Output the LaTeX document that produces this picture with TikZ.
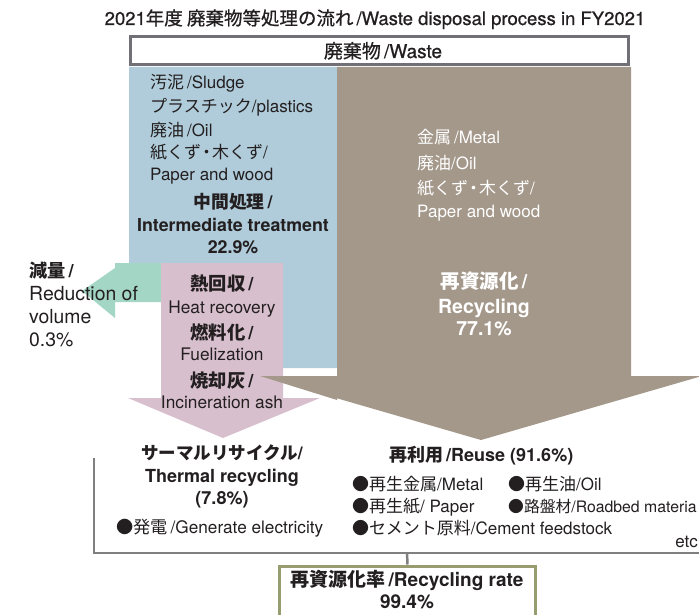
\documentclass[tikz,border=0pt]{standalone}
\usepackage{fontspec}
\setmainfont{TeX Gyre Heros}
\newfontfamily\jpf{Noto Sans CJK JP}
\newfontfamily\medf[FakeBold=0.7]{TeX Gyre Heros}
\newfontfamily\jpmed[FakeBold=0.7]{Noto Sans CJK JP}
\newcommand\J[1]{{\jpf #1}}
\newcommand\JM[1]{{\jpmed #1}}
\newcommand\fs[1]{\fontsize{#1}{#1}\selectfont}
\definecolor{blueC}{RGB}{176,204,218}
\definecolor{brownC}{RGB}{164,152,139}
\definecolor{pinkC}{RGB}{216,191,205}
\definecolor{greenC}{RGB}{163,214,196}
\definecolor{ink}{RGB}{35,31,32}
\definecolor{lineC}{RGB}{128,128,128}
\definecolor{wasteC}{RGB}{112,112,118}
\definecolor{rateC}{RGB}{152,157,112}
\begin{document}
\begin{tikzpicture}[x=1pt,y=-1pt,
  txt/.style={inner sep=0pt, text=ink},
  lt/.style={txt, anchor=base west},
  ct/.style={txt, anchor=base},
  wt/.style={inner sep=0pt, text=white}]
\clip (0,0) rectangle (699,615);
\fill[white] (0,0) rectangle (699,615);

% title
\node[ct, font=\fs{18.5}\medf] (title) at (375,25) {2021\JM{年度 廃棄物等処理の流れ}\,/Waste disposal process in FY2021};

% waste box
\draw[wasteC, line width=3pt, fill=white] (130.5,36.5) rectangle (628.5,64.5);
\node[ct, font=\fs{19}\medf] (waste) at (383,58) {\JM{廃棄物}\,/Waste};

% blue region
\fill[blueC] (129,67) -- (337,67) -- (337,368) -- (283,368) -- (283,263) -- (129,263) -- cycle;
% brown region + arrow
\fill[brownC] (337,67) -- (631,67) -- (631,376) -- (702,376) -- (481,440) -- (260,376) -- (337,376) -- cycle;
% green arrow
\fill[greenC] (161,263) -- (115,263) -- (115,268) -- (82,291) -- (115,318) -- (115,302) -- (161,302) -- cycle;
% pink arrow
\fill[pinkC] (161,263) -- (283,263) -- (283,398) -- (320,398) -- (223,438) -- (128,398) -- (161,398) -- cycle;
% brown arrowhead over pink
\fill[brownC] (260,376) -- (337,376) -- (337,400) -- cycle;

% blue texts
\node[lt, font=\fs{17}] (b1) at (150,89) {\J{汚泥}\,/Sludge};
\node[lt, font=\fs{17}] (b2) at (150,113) {\J{プラスチック}/plastics};
\node[lt, font=\fs{17}] (b3) at (150,137) {\J{廃油}\,/Oil};
\node[lt, font=\fs{17}] (b4) at (150,159) {\J{紙くず}\hspace{-3pt}\J{・}\hspace{-3pt}\J{木くず}/};
\node[lt, font=\fs{17}] (b5) at (150,181) {Paper and wood};
\node[ct, font=\fs{17.8}\bfseries] (b6) at (233,208) {\J{中間処理}\,/};
\node[ct, font=\fs{17.8}\bfseries] (b7) at (233,231) {Intermediate treatment};
\node[ct, font=\fs{17.8}\bfseries] (b8) at (233,253) {22.9\%};

% brown texts
\node[wt, anchor=base west, font=\fs{17}] (r1) at (417,144) {\J{金属}\,/Metal};
\node[wt, anchor=base west, font=\fs{17}] (r2) at (417,169) {\J{廃油}/Oil};
\node[wt, anchor=base west, font=\fs{17}] (r3) at (417,194) {\J{紙くず}\hspace{-3pt}\J{・}\hspace{-3pt}\J{木くず}/};
\node[wt, anchor=base west, font=\fs{17}] (r4) at (417,218) {Paper and wood};
\node[wt, anchor=base, font=\fs{19.5}\bfseries] (r5) at (484,288) {\J{再資源化}\,/};
\node[wt, anchor=base, font=\fs{19.5}\bfseries] (r6) at (484,313) {Recycling};
\node[wt, anchor=base, font=\fs{19.5}\bfseries] (r7) at (484,335) {77.1\%};

% green label
\node[lt, font=\fs{18.2}\bfseries] (g1) at (29,277) {\J{減量}\,/};
\node[lt, font=\fs{19.4}] (g2) at (29,300) {Reduction of};
\node[lt, font=\fs{19.4}] (g3) at (29,323) {volume};
\node[lt, font=\fs{19.4}] (g4) at (29,346) {0.3\%};

% pink texts
\node[ct, font=\fs{18.3}\bfseries] (p1) at (222,290) {\J{熱回収}\,/};
\node[ct, font=\fs{17.3}] (p2) at (222,313) {Heat recovery};
\node[ct, font=\fs{18.3}\bfseries] (p3) at (222,339) {\J{燃料化}\,/};
\node[ct, font=\fs{17.3}] (p4) at (222,360) {Fuelization};
\node[ct, font=\fs{18.3}\bfseries] (p5) at (222,387) {\J{焼却灰}\,/};
\node[ct, font=\fs{17.3}] (p6) at (222,408) {Incineration ash};

% bracket
\coordinate (brA) at (94,458);
\coordinate (brB) at (94,553);
\coordinate (brC) at (702,553);
\coordinate (brM) at (407,553);
\draw[lineC, line width=2.5pt] (brA) -- (brB) -- (brC);

% thermal recycling
\node[ct, font=\fs{17.5}\bfseries] (t1) at (222,459) {\J{サーマルリサイクル}/};
\node[ct, font=\fs{18}\bfseries] (t2) at (222,482) {Thermal recycling};
\node[ct, font=\fs{18}\bfseries] (t3) at (222,504) {(7.8\%)};
\node[lt, font=\fs{17.2}] (t4) at (116,533) {\J{●発電}\,/Generate electricity};

% reuse
\node[lt, font=\fs{18}\bfseries] (u0) at (389,461) {\J{再利用}\,/Reuse (91.6\%)};
\node[lt, font=\fs{17}] (u1) at (352,490) {\J{●再生金属}/Metal};
\node[lt, font=\fs{17}] (u2) at (508,490) {\J{●再生油}/Oil};
\node[lt, font=\fs{17}] (u3) at (352,512) {\J{●再生紙}/ Paper};
\node[lt, font=\fs{15.8}] (u4) at (508,512) {\J{●路盤材}/Roadbed materia};
\node[lt, font=\fs{17}] (u5) at (352,534) {\J{●セメント原料}/Cement feedstock};
\node[txt, anchor=base east, font=\fs{17}] (u6) at (698,547) {etc};

% recycling rate box
\node[draw=rateC, line width=3pt, fill=white, inner sep=0pt, minimum width=256pt, minimum height=56pt, anchor=north] (rate) at (407.5,564.5) {};
\draw[lineC, line width=2.5pt] (brM) -- (rate.north);
\node[ct, font=\fs{19}\bfseries] (q1) at (407,586) {\J{再資源化率}\,/Recycling rate};
\node[ct, font=\fs{19}\bfseries] (q2) at (407,608) {99.4\%};
\end{tikzpicture}
\end{document}
